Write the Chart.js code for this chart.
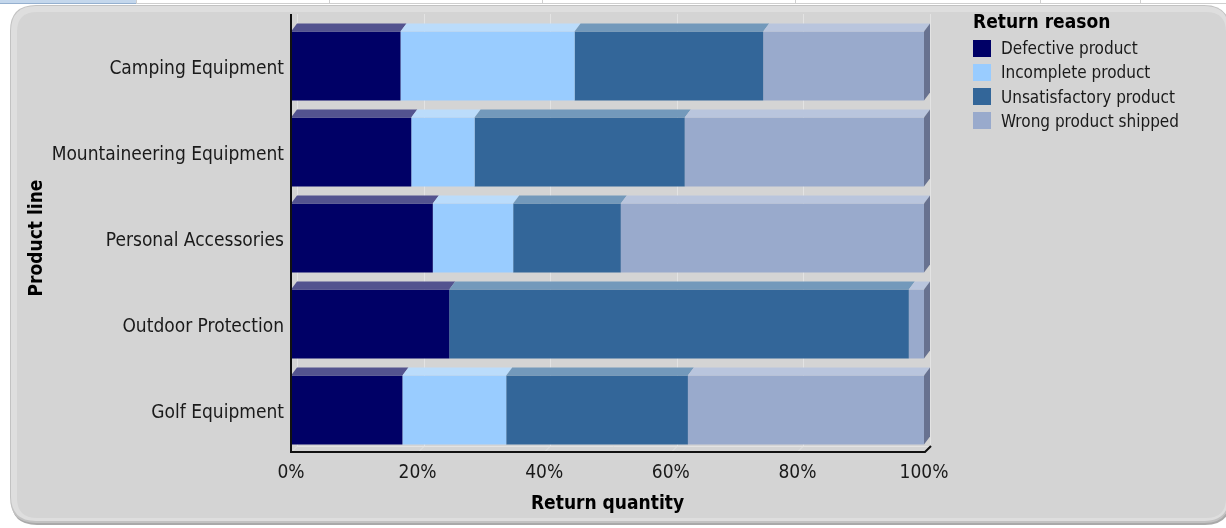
<!DOCTYPE html>
<html><head><meta charset="utf-8">
<script src="https://cdn.jsdelivr.net/npm/chart.js@4.4.1/dist/chart.umd.min.js"></script>
<style>html,body{margin:0;padding:0;background:#fff;overflow:hidden}#wrap{position:relative;width:1226px;height:528px}canvas{display:block}</style>
</head><body><div id="wrap"><canvas id="c" width="1226" height="528"></canvas></div>
<script>
const categories = ['Camping Equipment', 'Mountaineering Equipment', 'Personal Accessories', 'Outdoor Protection', 'Golf Equipment'];
const seriesNames = ['Defective product', 'Incomplete product', 'Unsatisfactory product', 'Wrong product shipped'];
const defective = [17.3, 19.0, 22.4, 25.0, 17.6];
const incomplete = [27.5, 10.0, 12.7, 0.0, 16.4];
const unsatisfactory = [29.8, 33.2, 17.0, 72.6, 28.7];
const wrongShipped = [25.4, 37.8, 47.9, 2.4, 37.3];
const xTicks = [0, 20, 40, 60, 80, 100];
const legendTitle = 'Return reason';
const xTitle = 'Return quantity';
const yTitle = 'Product line';

const colors = ['#000066', '#99ccff', '#336699', '#99aacc'];
const topColors = ['#53538f', '#bbdcfb', '#7399bb', '#b9c5dd'];
const sideColors = ['#2a2a60', '#7fa8d0', '#284f78', '#687290'];

const FONT = "'DejaVu Sans Condensed', 'DejaVu Sans', sans-serif";
const DX = 6, DY = 8;

Chart.defaults.font.family = FONT;
Chart.defaults.color = '#1a1a1a';

function rr(ctx, x, y, w, h, r) {
  ctx.beginPath();
  ctx.moveTo(x + r, y);
  ctx.lineTo(x + w - r, y);
  ctx.quadraticCurveTo(x + w, y, x + w, y + r);
  ctx.lineTo(x + w, y + h - r);
  ctx.quadraticCurveTo(x + w, y + h, x + w - r, y + h);
  ctx.lineTo(x + r, y + h);
  ctx.quadraticCurveTo(x, y + h, x, y + h - r);
  ctx.lineTo(x, y + r);
  ctx.quadraticCurveTo(x, y, x + r, y);
  ctx.closePath();
}

const bgPlugin = {
  id: 'bg',
  beforeDraw(chart) {
    const ctx = chart.ctx;
    ctx.save();
    ctx.fillStyle = '#ffffff';
    ctx.fillRect(0, 0, chart.width, chart.height);
    // top strip
    ctx.fillStyle = '#c4d7ec';
    ctx.fillRect(0, 0, 136, 4);
    ctx.fillStyle = '#95b0cf';
    ctx.fillRect(0, 3, 136, 1);
    ctx.fillStyle = '#cfcfcf';
    ctx.fillRect(136, 3, chart.width - 136, 1);
    [136, 329, 542, 795, 1040, 1140].forEach(x => { ctx.fillRect(x, 0, 1, 4); });
    // card shadow
    ctx.fillStyle = '#a9a9a9';
    rr(ctx, 11, 7, 1220, 518, 26);
    ctx.fill();
    // card border
    ctx.fillStyle = '#c2c2c2';
    rr(ctx, 10, 5, 1220, 518, 26);
    ctx.fill();
    ctx.fillStyle = '#dedede';
    rr(ctx, 11, 6, 1218, 515, 25);
    ctx.fill();
    ctx.fillStyle = '#d4d4d4';
    rr(ctx, 17, 12, 1209, 506, 20);
    ctx.fill();
    ctx.restore();
  }
};

const threeD = {
  id: 'threeD',
  beforeDatasetsDraw(chart) {
    const ctx = chart.ctx;
    const xs = chart.scales.x;
    const a = chart.chartArea;
    const top = 14, floorBack = a.bottom - 7;
    ctx.save();
    ctx.strokeStyle = '#e3e3e3';
    ctx.lineWidth = 1;
    xTicks.forEach(v => {
      const px = Math.round(xs.getPixelForValue(v)) + 0.5;
      ctx.beginPath();
      ctx.moveTo(px + DX, top);
      ctx.lineTo(px + DX, floorBack);
      ctx.lineTo(px, a.bottom - 1);
      ctx.stroke();
    });
    ctx.beginPath();
    ctx.moveTo(a.left + DX, floorBack + 0.5);
    ctx.lineTo(a.right + DX, floorBack + 0.5);
    ctx.stroke();
    ctx.restore();
  },
  afterDatasetsDraw(chart) {
    const ctx = chart.ctx;
    ctx.save();
    const nCat = chart.data.labels.length;
    for (let i = 0; i < nCat; i++) {
      let last = -1;
      chart.data.datasets.forEach((ds, d) => { if (ds.data[i] > 0) last = d; });
      chart.data.datasets.forEach((ds, d) => {
        if (!(ds.data[i] > 0)) return;
        const el = chart.getDatasetMeta(d).data[i];
        const p = el.getProps(['x', 'y', 'base', 'height'], true);
        const l = Math.min(p.x, p.base), r = Math.max(p.x, p.base);
        const t = p.y - p.height / 2, b = p.y + p.height / 2;
        ctx.fillStyle = topColors[d];
        ctx.beginPath();
        ctx.moveTo(l, t); ctx.lineTo(r, t); ctx.lineTo(r + DX, t - DY); ctx.lineTo(l + DX, t - DY);
        ctx.closePath(); ctx.fill();
        if (d === last) {
          ctx.fillStyle = sideColors[d];
          ctx.beginPath();
          ctx.moveTo(r, t); ctx.lineTo(r + DX, t - DY); ctx.lineTo(r + DX, b - DY); ctx.lineTo(r, b);
          ctx.closePath(); ctx.fill();
        }
      });
    }
    ctx.restore();
  },
  afterDraw(chart) {
    const ctx = chart.ctx;
    const a = chart.chartArea;
    ctx.save();
    ctx.strokeStyle = '#111';
    ctx.lineWidth = 2;
    ctx.beginPath();
    ctx.moveTo(a.left, 14);
    ctx.lineTo(a.left, a.bottom - 1);
    ctx.lineTo(a.right + 1, a.bottom - 1);
    ctx.lineTo(a.right + DX + 1, a.bottom - 7);
    ctx.stroke();
    // legend
    const lx = 973;
    ctx.fillStyle = '#000';
    ctx.font = "bold 19px " + FONT;
    ctx.textBaseline = 'middle';
    ctx.textAlign = 'left';
    ctx.fillText(legendTitle, lx, 23);
    ctx.font = "17px " + FONT;
    chart.data.datasets.forEach((ds, d) => {
      const cy = 48 + d * 24.3;
      ctx.fillStyle = ds.backgroundColor;
      ctx.fillRect(lx, Math.round(cy - 8.5), 18, 17);
      ctx.fillStyle = '#1a1a1a';
      ctx.fillText(ds.label, 1001, cy + 1.5);
    });
    ctx.restore();
  }
};

const seriesData = [defective, incomplete, unsatisfactory, wrongShipped];

new Chart(document.getElementById('c'), {
  type: 'bar',
  data: {
    labels: categories,
    datasets: seriesNames.map((name, i) => ({
      label: name,
      data: seriesData[i],
      backgroundColor: colors[i],
      borderWidth: 0,
      categoryPercentage: 1.0,
      barPercentage: 0.8
    }))
  },
  options: {
    indexAxis: 'y',
    responsive: false,
    animation: false,
    devicePixelRatio: 1,
    layout: { padding: { left: 18, top: 23, right: 302, bottom: 6 } },
    plugins: { legend: { display: false }, tooltip: { enabled: false } },
    scales: {
      x: {
        stacked: true,
        min: 0, max: 100,
        afterBuildTicks: s => { s.ticks = xTicks.map(v => ({ value: v })); },
        afterFit: s => { s.height = 69; },
        grid: { display: false, drawTicks: false },
        border: { display: false },
        ticks: { padding: 9, font: { size: 19 }, color: '#1a1a1a', maxRotation: 0, callback: v => v + '%' },
        title: { display: true, text: xTitle, color: '#000', font: { size: 19, weight: 'bold' }, padding: { top: 0, bottom: 7 } }
      },
      y: {
        stacked: true,
        afterFit: s => { s.width = 273; },
        grid: { display: false, drawTicks: false },
        border: { display: false },
        ticks: { padding: 7, labelOffset: 3, font: { size: 19 }, color: '#1a1a1a' },
        title: { display: true, text: yTitle, color: '#000', font: { size: 19, weight: 'bold' }, padding: { top: 8, bottom: 0 } }
      }
    }
  },
  plugins: [bgPlugin, threeD]
});
</script>
</body></html>
